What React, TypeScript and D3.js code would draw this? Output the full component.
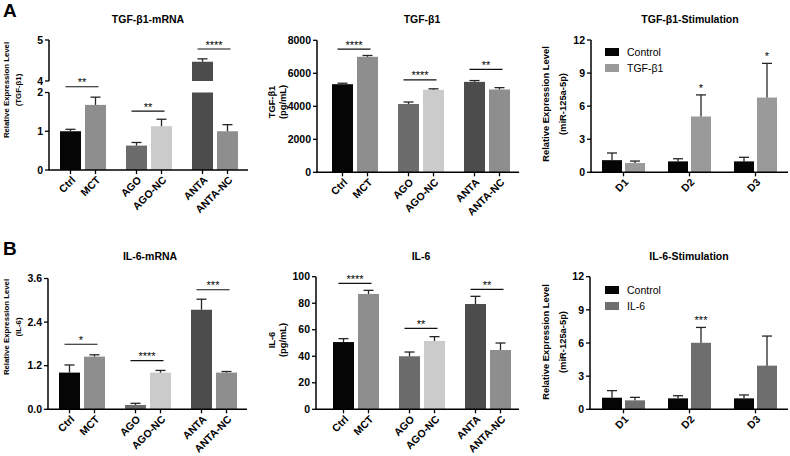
import React from "react";
import * as d3 from "d3";

// ---------------- DATA ----------------
const groupLabels = ["Ctrl", "MCT", "AGO", "AGO-NC", "ANTA", "ANTA-NC"];
const days = ["D1", "D2", "D3"];

const tgfMrnaMean = [1.0, 1.68, 0.63, 1.13, 4.47, 1.0];
const tgfMrnaUpper = [1.05, 1.88, 0.71, 1.31, 4.54, 1.17];
const tgfMrnaTicks = [0, 1, 2, 4, 5];
const tgfMrnaSig = ["**", "**", "****"];
const tgfMrnaSigLevel = [3.0, 1.52, 4.78];

const tgfProtMean = [5340, 7000, 4140, 5000, 5480, 5020];
const tgfProtUpper = [5400, 7080, 4260, 5060, 5560, 5130];
const tgfProtTicks = [0, 2000, 4000, 6000, 8000];
const tgfProtSig = ["****", "****", "**"];
const tgfProtSigLevel = [7460, 5600, 6240];

const stimTicks = [0, 3, 6, 9, 12];
const tgfStimControl = [1.1, 0.99, 0.99];
const tgfStimControlUpper = [1.75, 1.23, 1.36];
const tgfStimTreated = [0.84, 5.06, 6.78];
const tgfStimTreatedUpper = [1.02, 7.02, 9.88];
const tgfStimStars = ["", "*", "*"];
const tgfStimLegend = ["Control", "TGF-β1"];

const il6MrnaMean = [1.01, 1.45, 0.12, 1.01, 2.74, 1.01];
const il6MrnaUpper = [1.22, 1.5, 0.165, 1.07, 3.03, 1.04];
const il6MrnaTicks = [0, 1.2, 2.4, 3.6];
const il6MrnaSig = ["*", "****", "***"];
const il6MrnaSigLevel = [1.79, 1.34, 3.29];

const il6ProtMean = [50.7, 87, 40, 51.5, 79.4, 44.7];
const il6ProtUpper = [53.3, 89.7, 43.2, 54.8, 85.2, 50];
const il6ProtTicks = [0, 20, 40, 60, 80, 100];
const il6ProtSig = ["****", "**", "**"];
const il6ProtSigLevel = [95, 61, 90.5];

const il6StimControl = [1.05, 0.99, 0.99];
const il6StimControlUpper = [1.69, 1.23, 1.3];
const il6StimTreated = [0.81, 6.02, 3.95];
const il6StimTreatedUpper = [1.08, 7.41, 6.63];
const il6StimStars = ["", "***", ""];
const il6StimLegend = ["Control", "IL-6"];

// ---------------- STYLE ----------------
const FONT = "'Liberation Sans', Arial, Helvetica, sans-serif";
const barColors = ["#050505", "#8e8e8e", "#6c6c6c", "#cbcbcb", "#4c4c4c", "#8e8e8e"];
const ERR = "#262626";
const TICK_FS = 10.5;
const XLAB_FS = 10.5;
const STAR_FS = 11;

type SixProps = {
  means: number[];
  uppers: number[];
  y: d3.ScaleLinear<number, number>;
  segments: [number, number][];
  ticks: number[];
  fmt: (v: number) => string;
  axisX: number;
  axisEnd: number;
  barsStart: number;
  sig: string[];
  sigLevel: number[];
  title: string;
  titleX: number;
  titleY: number;
  ylabel: string[];
  ylabelX: number[];
  ylabelY: number;
  ylabelSize: number;
};

function AxisLabel({ lines, xs, cy, size }: { lines: string[]; xs: number[]; cy: number; size: number }) {
  return (
    <g>
      {lines.map((t, i) => (
        <text
          key={i}
          transform={`translate(${xs[i]},${cy}) rotate(-90)`}
          textAnchor="middle"
          dy="0.35em"
          fontSize={size}
          fontWeight="bold"
          fontFamily={FONT}
        >
          {t}
        </text>
      ))}
    </g>
  );
}

function SixPanel(p: SixProps) {
  const xg = d3
    .scaleBand<number>()
    .domain([0, 1, 2])
    .range([p.barsStart, p.barsStart + 178])
    .paddingInner(20 / 66)
    .paddingOuter(0);
  const xi = d3.scaleBand<number>().domain([0, 1]).range([0, xg.bandwidth()]).paddingInner(4 / 25);
  const bx = (i: number) => (xg(Math.floor(i / 2)) as number) + (xi(i % 2) as number);
  const bw = xi.bandwidth();
  const y0 = p.y(0);
  return (
    <g>
      <text x={p.titleX} y={p.titleY} textAnchor="middle" fontSize={10.5} fontWeight="bold" fontFamily={FONT}>
        {p.title}
      </text>
      <AxisLabel lines={p.ylabel} xs={p.ylabelX} cy={p.ylabelY} size={p.ylabelSize} />
      {p.means.map((m, i) =>
        p.segments.map((s, k) => {
          if (m <= s[0]) return null;
          const top = Math.min(m, s[1]);
          return (
            <rect
              key={`${i}-${k}`}
              x={bx(i)}
              y={p.y(top)}
              width={bw}
              height={p.y(s[0]) - p.y(top)}
              fill={barColors[i]}
            />
          );
        })
      )}
      {p.means.map((m, i) => {
        const cx = bx(i) + bw / 2;
        return (
          <g key={`e${i}`} stroke={ERR} strokeWidth={1.3}>
            <line x1={cx} x2={cx} y1={p.y(m)} y2={p.y(p.uppers[i])} />
            <line x1={cx - 5} x2={cx + 5} y1={p.y(p.uppers[i])} y2={p.y(p.uppers[i])} />
          </g>
        );
      })}
      {p.sig.map((s, g) => {
        const l = bx(2 * g) + bw / 2 - 5;
        const r = bx(2 * g + 1) + bw / 2 + 3;
        const yy = p.y(p.sigLevel[g]);
        return (
          <g key={`s${g}`}>
            <line x1={l} x2={r} y1={yy} y2={yy} stroke="#111" strokeWidth={1.2} />
            <text x={(l + r) / 2} y={yy - 0.5} textAnchor="middle" fontSize={STAR_FS} fontFamily={FONT}>
              {s}
            </text>
          </g>
        );
      })}
      {p.segments.map((s, k) => (
        <line key={`ya${k}`} x1={p.axisX} x2={p.axisX} y1={p.y(s[0])} y2={p.y(s[1])} stroke="#000" strokeWidth={1.5} />
      ))}
      {p.ticks.map((t) => {
        const yy = p.y(t);
        return (
          <g key={`yt${t}`}>
            <line x1={p.axisX - 4} x2={p.axisX} y1={yy} y2={yy} stroke="#000" strokeWidth={1.3} />
            <text x={p.axisX - 6} y={yy} dy="0.35em" textAnchor="end" fontSize={TICK_FS} fontWeight="bold" fontFamily={FONT}>
              {p.fmt(t)}
            </text>
          </g>
        );
      })}
      <line x1={p.axisX - 0.75} x2={p.axisEnd} y1={y0} y2={y0} stroke="#000" strokeWidth={1.5} />
      {groupLabels.map((lab, i) => {
        const cx = bx(i) + bw / 2;
        return (
          <g key={`xt${i}`}>
            <line x1={cx} x2={cx} y1={y0} y2={y0 + 4} stroke="#000" strokeWidth={1.3} />
            <text
              transform={`translate(${cx + 3},${y0 + 8}) rotate(-45)`}
              textAnchor="end"
              dy="0.35em"
              fontSize={XLAB_FS}
              fontWeight="bold"
              fontFamily={FONT}
            >
              {lab}
            </text>
          </g>
        );
      })}
    </g>
  );
}

type StimProps = {
  control: number[];
  controlUpper: number[];
  treated: number[];
  treatedUpper: number[];
  stars: string[];
  legend: string[];
  treatedColor: string;
  y: d3.ScaleLinear<number, number>;
  axisX: number;
  axisEnd: number;
  barsStart: number;
  title: string;
  titleX: number;
  titleY: number;
  ylabel: string[];
  ylabelX: number[];
  ylabelY: number;
  ylabelSize: number;
  legendY: number;
};

function StimPanel(p: StimProps) {
  const xg = d3
    .scaleBand<string>()
    .domain(days)
    .range([p.barsStart, p.barsStart + 175])
    .paddingInner(23 / 66)
    .paddingOuter(0);
  const xi = d3.scaleBand<number>().domain([0, 1]).range([0, xg.bandwidth()]).paddingInner(3 / 23);
  const bw = xi.bandwidth();
  const y0 = p.y(0);
  const series = [
    { vals: p.control, ups: p.controlUpper, color: "#050505" },
    { vals: p.treated, ups: p.treatedUpper, color: p.treatedColor },
  ];
  return (
    <g>
      <text x={p.titleX} y={p.titleY} textAnchor="middle" fontSize={10.5} fontWeight="bold" fontFamily={FONT}>
        {p.title}
      </text>
      <AxisLabel lines={p.ylabel} xs={p.ylabelX} cy={p.ylabelY} size={p.ylabelSize} />
      {series.map((s, k) =>
        days.map((d, i) => {
          const x = (xg(d) as number) + (xi(k) as number);
          const cx = x + bw / 2;
          return (
            <g key={`${k}-${d}`}>
              <rect x={x} y={p.y(s.vals[i])} width={bw} height={y0 - p.y(s.vals[i])} fill={s.color} />
              <g stroke={ERR} strokeWidth={1.3}>
                <line x1={cx} x2={cx} y1={p.y(s.vals[i])} y2={p.y(s.ups[i])} />
                <line x1={cx - 5} x2={cx + 5} y1={p.y(s.ups[i])} y2={p.y(s.ups[i])} />
              </g>
              {k === 1 && p.stars[i] ? (
                <text x={cx} y={p.y(s.ups[i]) - 3} textAnchor="middle" fontSize={STAR_FS} fontFamily={FONT}>
                  {p.stars[i]}
                </text>
              ) : null}
            </g>
          );
        })
      )}
      {p.legend.map((l, k) => (
        <g key={`lg${k}`}>
          <rect x={605} y={p.legendY + k * 16} width={14} height={8} fill={series[k].color} />
          <text x={627} y={p.legendY + k * 16 + 4} dy="0.35em" fontSize={10.5} fontFamily={FONT}>
            {l}
          </text>
        </g>
      ))}
      <line x1={p.axisX} x2={p.axisX} y1={y0} y2={p.y(12)} stroke="#000" strokeWidth={1.5} />
      {stimTicks.map((t) => (
        <g key={`t${t}`}>
          <line x1={p.axisX - 4} x2={p.axisX} y1={p.y(t)} y2={p.y(t)} stroke="#000" strokeWidth={1.3} />
          <text x={p.axisX - 6} y={p.y(t)} dy="0.35em" textAnchor="end" fontSize={TICK_FS} fontWeight="bold" fontFamily={FONT}>
            {t}
          </text>
        </g>
      ))}
      <line x1={p.axisX - 0.75} x2={p.axisEnd} y1={y0} y2={y0} stroke="#000" strokeWidth={1.5} />
      {days.map((d) => {
        const cx = (xg(d) as number) + xg.bandwidth() / 2;
        return (
          <g key={`x${d}`}>
            <line x1={cx} x2={cx} y1={y0} y2={y0 + 4} stroke="#000" strokeWidth={1.3} />
            <text
              transform={`translate(${cx + 3},${y0 + 8}) rotate(-45)`}
              textAnchor="end"
              dy="0.35em"
              fontSize={XLAB_FS}
              fontWeight="bold"
              fontFamily={FONT}
            >
              {d}
            </text>
          </g>
        );
      })}
    </g>
  );
}

export default function App() {
  const yA1 = d3.scaleLinear().domain([0, 2, 4, 5]).range([170, 92.5, 81, 40]);
  const yA2 = d3.scaleLinear().domain([0, 8000]).range([172.3, 40.3]);
  const yA3 = d3.scaleLinear().domain([0, 12]).range([172.3, 40]);
  const yB1 = d3.scaleLinear().domain([0, 3.6]).range([409.3, 278.5]);
  const yB2 = d3.scaleLinear().domain([0, 100]).range([409.3, 276.7]);
  const yB3 = d3.scaleLinear().domain([0, 12]).range([409.3, 276.7]);
  const intFmt = d3.format("d");
  const oneFmt = d3.format(".1f");

  return (
    <svg
      width={790}
      height={456}
      style={{ position: "absolute", left: 0, top: 0, background: "#fff" }}
      fontFamily={FONT}
    >
      <rect width={790} height={456} fill="#fff" />
      <text x={3} y={17} fontSize={19} fontWeight="bold" fontFamily={FONT}>A</text>
      <text x={3} y={255} fontSize={19} fontWeight="bold" fontFamily={FONT}>B</text>

      <SixPanel
        means={tgfMrnaMean}
        uppers={tgfMrnaUpper}
        y={yA1}
        segments={[[0, 2], [4, 5]]}
        ticks={tgfMrnaTicks}
        fmt={intFmt}
        axisX={49}
        axisEnd={248}
        barsStart={60}
        sig={tgfMrnaSig}
        sigLevel={tgfMrnaSigLevel}
        title="TGF-β1-mRNA"
        titleX={148}
        titleY={23}
        ylabel={["Relative Expression Level", "(TGF-β1)"]}
        ylabelX={[6.5, 18.5]}
        ylabelY={90}
        ylabelSize={7.8}
      />
      <SixPanel
        means={tgfProtMean}
        uppers={tgfProtUpper}
        y={yA2}
        segments={[[0, 8000]]}
        ticks={tgfProtTicks}
        fmt={intFmt}
        axisX={317}
        axisEnd={519}
        barsStart={332}
        sig={tgfProtSig}
        sigLevel={tgfProtSigLevel}
        title="TGF-β1"
        titleX={422}
        titleY={23}
        ylabel={["TGF-β1", "(pg/mL)"]}
        ylabelX={[272, 283]}
        ylabelY={102}
        ylabelSize={9.3}
      />
      <StimPanel
        control={tgfStimControl}
        controlUpper={tgfStimControlUpper}
        treated={tgfStimTreated}
        treatedUpper={tgfStimTreatedUpper}
        stars={tgfStimStars}
        legend={tgfStimLegend}
        treatedColor="#9a9a9a"
        y={yA3}
        axisX={591}
        axisEnd={788}
        barsStart={602}
        title="TGF-β1-Stimulation"
        titleX={690}
        titleY={23}
        ylabel={["Relative Expression Level", "(miR-125a-5p)"]}
        ylabelX={[546, 563]}
        ylabelY={104}
        ylabelSize={9.4}
        legendY={48}
      />

      <SixPanel
        means={il6MrnaMean}
        uppers={il6MrnaUpper}
        y={yB1}
        segments={[[0, 3.6]]}
        ticks={il6MrnaTicks}
        fmt={oneFmt}
        axisX={48}
        axisEnd={247}
        barsStart={59}
        sig={il6MrnaSig}
        sigLevel={il6MrnaSigLevel}
        title="IL-6-mRNA"
        titleX={150}
        titleY={260}
        ylabel={["Relative Expression Level", "(IL-6)"]}
        ylabelX={[6.5, 18.5]}
        ylabelY={327}
        ylabelSize={7.8}
      />
      <SixPanel
        means={il6ProtMean}
        uppers={il6ProtUpper}
        y={yB2}
        segments={[[0, 100]]}
        ticks={il6ProtTicks}
        fmt={intFmt}
        axisX={316}
        axisEnd={519}
        barsStart={333}
        sig={il6ProtSig}
        sigLevel={il6ProtSigLevel}
        title="IL-6"
        titleX={421}
        titleY={260}
        ylabel={["IL-6", "(pg/mL)"]}
        ylabelX={[272, 283]}
        ylabelY={340}
        ylabelSize={9.3}
      />
      <StimPanel
        control={il6StimControl}
        controlUpper={il6StimControlUpper}
        treated={il6StimTreated}
        treatedUpper={il6StimTreatedUpper}
        stars={il6StimStars}
        legend={il6StimLegend}
        treatedColor="#6e6e6e"
        y={yB3}
        axisX={590}
        axisEnd={788}
        barsStart={602}
        title="IL-6-Stimulation"
        titleX={689}
        titleY={260}
        ylabel={["Relative Expression Level", "(miR-125a-5p)"]}
        ylabelX={[546, 563]}
        ylabelY={342}
        ylabelSize={9.4}
        legendY={286}
      />
    </svg>
  );
}
